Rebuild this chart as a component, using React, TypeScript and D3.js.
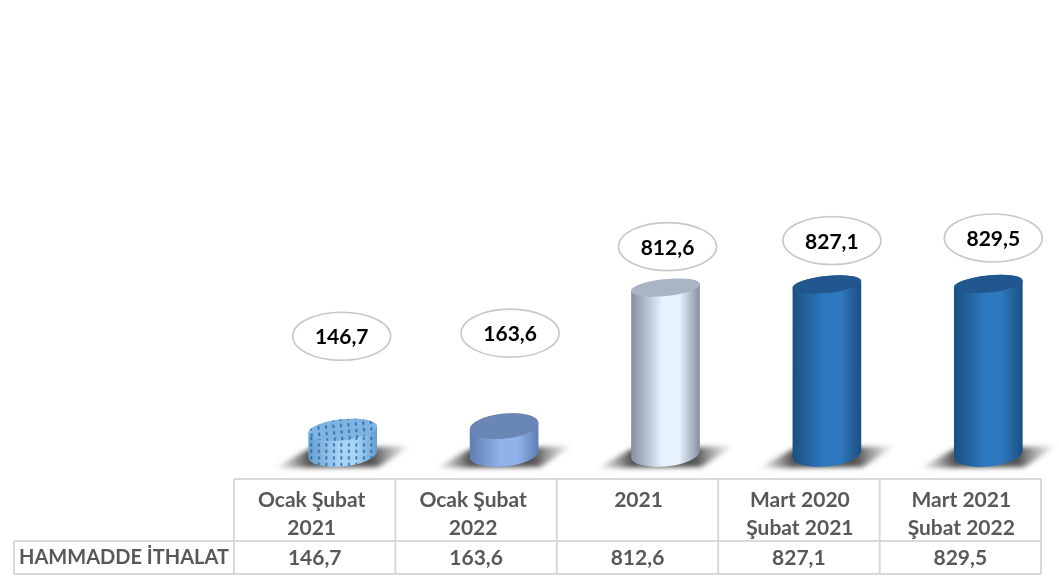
import React from 'react';
import * as d3 from 'd3';

const categories = [['Ocak Şubat', '2021'], ['Ocak Şubat', '2022'], ['2021'], ['Mart 2020', 'Şubat 2021'], ['Mart 2021', 'Şubat 2022']];
const values = [146.7, 163.6, 812.6, 827.1, 829.5];
const rowLabel = 'HAMMADDE İTHALAT';

// look of each bar, same order as values
const edgeColors = ['#659fce', '#5f7db5', '#858e9e', '#1c4f80', '#1c4f80'];
const midColors = ['#a8d4f5', '#90b2ea', '#e8f1ff', '#2f78bf', '#2f78bf'];
const topColors = ['#7fb3e0', '#6b86b4', '#a9b4c5', '#22578e', '#22578e'];
const topRadii = [10.5, 12.5, 8.5, 8.5, 8.5];
const labelGaps = [93.5, 93, 41, 44, 46];
const labelShifts = [0, 7, 3, 6, 6];
const headerShifts = [-3, -3, 1, 1, 1];

const width = 1059;
const height = 576;
const baseY = 454;
const tilt = -6;

const fmt = (v: number) => v.toFixed(1).replace('.', ',');

// vertical tangent points of a tilted ellipse
function tangent(rx: number, ry: number) {
  const phi = (tilt * Math.PI) / 180;
  const t = Math.atan((-ry / rx) * Math.tan(phi));
  const dx = rx * Math.cos(t) * Math.cos(phi) - ry * Math.sin(t) * Math.sin(phi);
  const dy = rx * Math.cos(t) * Math.sin(phi) + ry * Math.sin(t) * Math.cos(phi);
  return { dx, dy };
}

function bodyPath(cx: number, top: number, rx: number, ryTop: number, ryBottom: number) {
  const a = tangent(rx, ryTop);
  const b = tangent(rx, ryBottom);
  return [
    `M${cx - a.dx},${top - a.dy}`,
    `L${cx - b.dx},${baseY - b.dy}`,
    `A${rx},${ryBottom} ${tilt} 0 0 ${cx + b.dx},${baseY + b.dy}`,
    `L${cx + a.dx},${top + a.dy}`,
    `A${rx},${ryTop} ${tilt} 0 0 ${cx - a.dx},${top - a.dy}`,
    'Z',
  ].join(' ');
}

export default function App() {
  const columns = d3.scaleBand<number>().domain(d3.range(values.length)).range([234, 1041]);
  const barX = d3.scaleBand<number>().domain(d3.range(values.length)).range([262, 1069]);
  const y = d3.scaleLinear().domain([155, 829.5]).range([428, 284]);
  const bw = columns.bandwidth();
  const textFill = '#595959';
  const font = 'Lato, sans-serif';

  return (
    <svg width={width} height={height} style={{ position: 'absolute', left: 0, top: 0, background: '#fff' }}>
      <defs>
        <filter id="soft" x="-5%" y="-5%" width="110%" height="110%">
          <feGaussianBlur stdDeviation="0.45" />
        </filter>
        <filter id="shadowBlur" x="-20%" y="-40%" width="140%" height="180%">
          <feGaussianBlur stdDeviation="2.8" />
        </filter>
        <linearGradient id="shadowFill">
          <stop offset="0" stopColor="#777" stopOpacity="0.05" />
          <stop offset="0.25" stopColor="#4a4a4a" stopOpacity="0.95" />
          <stop offset="0.72" stopColor="#4a4a4a" stopOpacity="0.95" />
          <stop offset="1" stopColor="#888" stopOpacity="0.05" />
        </linearGradient>
        {values.map((_, i) => (
          <linearGradient key={i} id={`bar${i}`}>
            <stop offset="0" stopColor={edgeColors[i]} />
            <stop offset="0.45" stopColor={midColors[i]} />
            <stop offset="0.7" stopColor={midColors[i]} />
            <stop offset="1" stopColor={edgeColors[i]} />
          </linearGradient>
        ))}
        <pattern id="dots" width="7.5" height="6.5" patternUnits="userSpaceOnUse">
          <rect x="3" y="1.2" width="1.8" height="3.4" fill="#1f68ad" opacity="0.9" />
        </pattern>
      </defs>

      <g filter="url(#soft)">
        {values.map((v, i) => {
          const cx = barX(i)! + barX.bandwidth() / 2;
          const top = y(v);
          const rx = 34.5;
          const ry = topRadii[i];
          const s = `M${cx - 68},${baseY + 14} L${cx - 34},${baseY - 5} L${cx + 68},${baseY - 8} L${cx + 36},${baseY + 13} Z`;
          return (
            <g key={i}>
              <path d={s} fill="url(#shadowFill)" filter="url(#shadowBlur)" />
              <path d={bodyPath(cx, top, rx, ry, 12.5)} fill={`url(#bar${i})`} />
              {i === 0 && <path d={bodyPath(cx, top, rx, ry, 12.5)} fill="url(#dots)" />}
              <ellipse cx={cx} cy={top} rx={rx} ry={ry} transform={`rotate(${tilt} ${cx} ${top})`} fill={topColors[i]} />
              {i === 0 && (
                <ellipse cx={cx} cy={top} rx={rx} ry={ry} transform={`rotate(${tilt} ${cx} ${top})`} fill="url(#dots)" />
              )}
              <ellipse
                cx={cx + labelShifts[i] - 1}
                cy={top - labelGaps[i]}
                rx={49}
                ry={24}
                fill="#fff"
                stroke="#c8c8c8"
                strokeWidth={1.6}
              />
              <text
                x={cx + labelShifts[i] - 1}
                y={top - labelGaps[i] + 8}
                textAnchor="middle"
                fontFamily={font}
                fontWeight={700}
                fontSize={21}
                fill="#000"
              >
                {fmt(v)}
              </text>
            </g>
          );
        })}

        <g stroke="#d9d9d9" strokeWidth={2} fill="none">
          <path d="M234,479 H1041 M14,541 H1041 M14,574 H1041 M14,541 V574" />
          {d3.range(values.length + 1).map(i => {
            const x = 234 + i * bw;
            return <line key={i} x1={x} x2={x} y1={479} y2={574} />;
          })}
        </g>

        <g fontFamily={font} fontWeight={700} fontSize={21} fill={textFill} textAnchor="middle">
          <text x={124} y={564} fontSize={20}>{rowLabel}</text>
          {categories.map((lines, i) => {
            const cx = columns(i)! + bw / 2;
            return (
              <g key={i}>
                {lines.map((line, j) => (
                  <text key={j} x={cx + headerShifts[i]} y={507 + j * 28}>{line}</text>
                ))}
                <text x={cx} y={565}>{fmt(values[i])}</text>
              </g>
            );
          })}
        </g>
      </g>
    </svg>
  );
}
